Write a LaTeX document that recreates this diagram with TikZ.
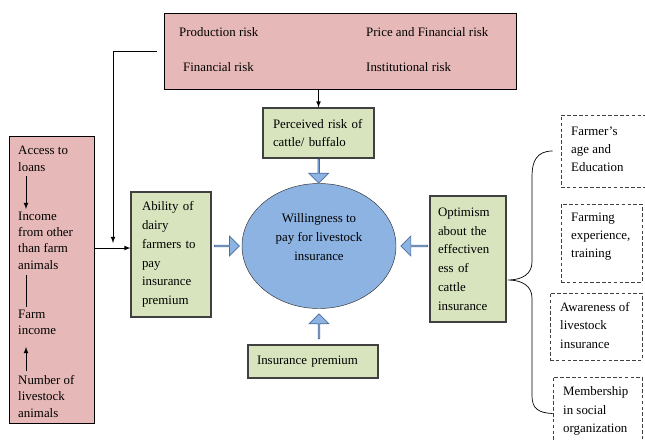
\documentclass[tikz,border=0pt]{standalone}
\usepackage{fontspec}
\setmainfont{Liberation Serif}
\usepackage{tikz}
\usetikzlibrary{shapes.geometric,shapes.arrows,calc}

\definecolor{riskpink}{HTML}{E6B9B8}
\definecolor{boxgreen}{HTML}{D7E4BD}
\definecolor{willblue}{HTML}{8DB3E2}
\definecolor{arrowedge}{HTML}{4A6F9E}

\tikzset{
  riskbox/.style={draw, fill=riskpink, line width=0.8pt},
  greenbox/.style={draw=black!75, fill=boxgreen, line width=0.9pt, align=left, inner xsep=0pt,
    font=\fontsize{11}{16}\selectfont},
  dbox/.style={draw=black!75, dash pattern=on 3pt off 2pt, line width=0.7pt},
  txt/.style={inner sep=0pt, align=left, font=\fontsize{11}{14}\selectfont},
  blockarr/.style={single arrow, draw=arrowedge, fill=willblue, line width=0.6pt,
    minimum width=0.6cm, single arrow head extend=0.15cm, inner sep=0pt, minimum height=#1},
  blockarr/.default=0.7cm,
}

\begin{document}
\begin{tikzpicture}[x=0.03cm, y=-0.03cm, >=latex]
  \useasboundingbox (0,0) rectangle (645,439);
  % sources of risk
  \node[riskbox, minimum width=10.56cm, minimum height=2.28cm] (risks) at (340,51) {};
  \node[txt, anchor=west] (prod) at (179,32) {Production risk};
  \node[txt, anchor=west] (fin) at (183,67) {Financial risk};
  \node[txt, anchor=west] (price) at (366,32) {Price and Financial risk};
  \node[txt, anchor=west] (inst) at (366,67) {Institutional risk};
  % income sources
  \node[riskbox, minimum width=2.55cm, minimum height=8.61cm] (incbox) at (51.5,279.5) {};
  \node[txt, anchor=west] (access) at (18,159) {Access to\\loans};
  \node[txt, anchor=west] (income) at (18,240.5) {Income\\from other\\than farm\\animals};
  \node[txt, anchor=west] (farm) at (18,322.5) {Farm\\income};
  \node[txt, anchor=west] (number) at (18,396.5) {Number of\\livestock\\animals};
  \coordinate (lx) at (26,0);
  \draw[->, thick, shorten <=4pt, shorten >=2pt] (access.south -| lx) -- (income.north -| lx);
  \draw[thick, shorten <=5pt, shorten >=2pt] (income.south -| lx) -- (farm.north -| lx);
  \draw[->, thick, shorten <=4pt, shorten >=10pt] (number.north -| lx) -- (farm.south -| lx);
  % factors around willingness
  \node[greenbox, minimum width=3.33cm, minimum height=1.5cm, text width=2.73cm,
    font=\fontsize{11}{15.3}\selectfont] (perc) at (318.5,133) {Perceived risk of\\cattle/ buffalo};
  \node[greenbox, minimum width=2.4cm, minimum height=3.75cm, text width=1.74cm] (ability)
    at (171,254.5) {Ability of\\dairy\\farmers to\\pay\\insurance\\premium};
  \node[greenbox, minimum width=2.28cm, minimum height=3.78cm, text width=1.8cm] (optim)
    at (468,259) {Optimism\\about the\\effectiven\\ess of\\cattle\\insurance};
  \node[greenbox, minimum width=3.9cm, minimum height=0.99cm, text width=3.36cm] (prem)
    at (313,361.5) {Insurance premium};
  \node[ellipse, draw=black!80, fill=willblue, minimum width=4.62cm, minimum height=3.75cm] (will)
    at (319,246) {};
  \node[txt, align=center, font=\fontsize{11}{16}\selectfont] (willtxt) at (319,237)
    {Willingness to\\pay for livestock\\insurance};
  % block arrows into the ellipse
  \node[blockarr=0.72cm, shape border rotate=270] (adown) at ($(perc.south)!0.5!(will.north)$) {};
  \node[blockarr=0.75cm] (aright) at ($(ability.east |- will.west)!0.5!(will.west)$) {};
  \node[blockarr=0.8cm, shape border rotate=180] (aleft) at ($(optim.west |- will.east)!0.45!(will.east)$) {};
  \node[blockarr=0.75cm, shape border rotate=90] (aup) at ($(will.south)!0.5!(will.south |- prem.north)$) {};
  % connectors
  \coordinate (jn) at (113,248);
  \draw[->, thick, shorten <=0.21cm, shorten >=0.15cm] (risks.west) -| (jn);
  \draw[->, thick] (incbox.east |- jn) -- (ability.west |- jn);
  \draw[->, thick] (risks.south -| perc.north) -- (perc.north);
  % personal factors
  \node[dbox, minimum width=2.67cm, minimum height=2.16cm] (fage) at (605.5,151) {};
  \node[dbox, minimum width=2.43cm, minimum height=2.34cm] (fexp) at (601.5,243) {};
  \node[dbox, minimum width=2.76cm, minimum height=2.01cm] (aware) at (596,326.5) {};
  \node[dbox, minimum width=2.67cm, minimum height=2.19cm] (member) at (597.5,413.5) {};
  \node[txt, anchor=west, font=\fontsize{11}{15.5}\selectfont] (fagetxt) at (571,149) {Farmer’s\\age and\\Education};
  \node[txt, anchor=west, font=\fontsize{11}{15.5}\selectfont] (fexptxt) at (571,236.5) {Farming\\experience,\\training};
  \node[txt, anchor=west, font=\fontsize{11}{15.5}\selectfont] (awaretxt) at (560,325.5) {Awareness of\\livestock\\insurance};
  \node[txt, anchor=west, font=\fontsize{11}{15.5}\selectfont] (membertxt) at (563,411) {Membership\\in social\\organization};
  % brace
  \coordinate (btip) at (508,280);
  \draw[line width=0.6pt] ([xshift=-0.24cm]fage.west) .. controls (537,151) and (532,161) .. (532,176)
    -- (532,262) .. controls (532,274) and (522,280) .. (btip)
    .. controls (522,280) and (532,286) .. (532,298) -- (532,396)
    .. controls (532,408) and (538,413) .. (member.west);
\end{tikzpicture}
\end{document}
